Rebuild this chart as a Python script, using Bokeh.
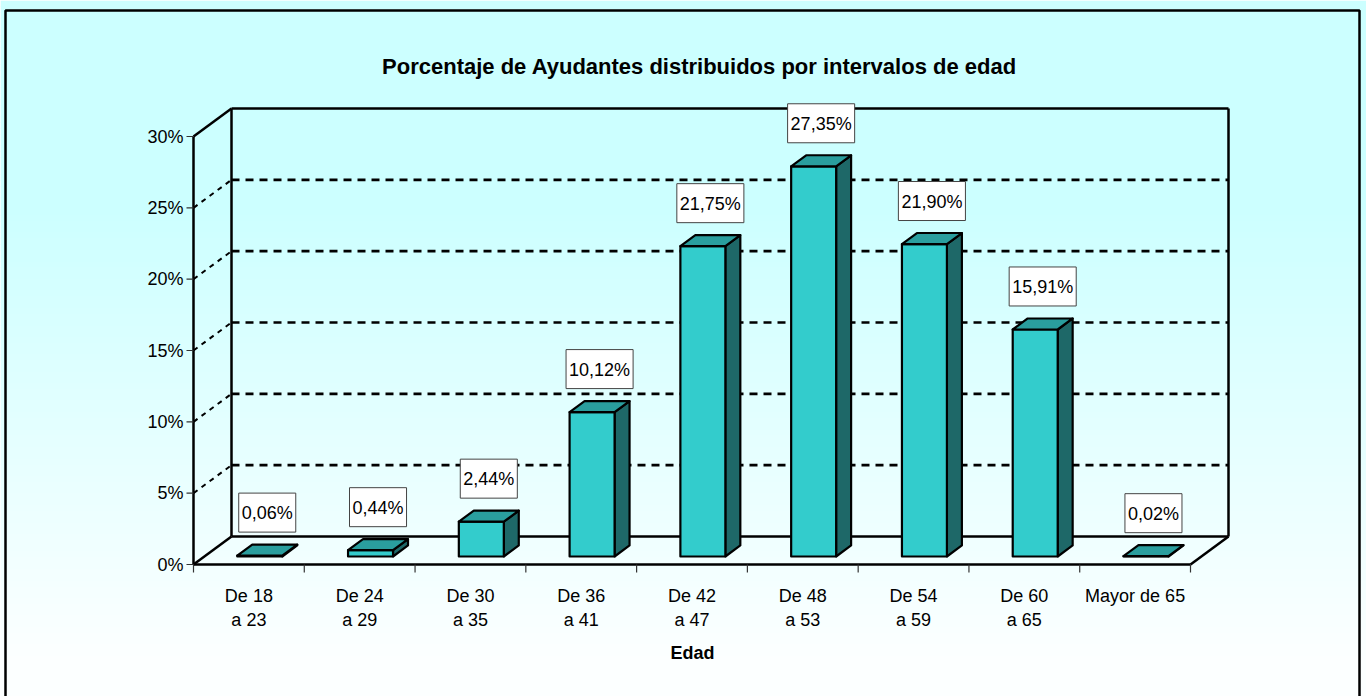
from bokeh.plotting import figure
from bokeh.models import Range1d
from bokeh.core.properties import value
from bokeh.embed import file_html
from bokeh.resources import INLINE

# ---------------- data ----------------
cat_line1 = ["De 18", "De 24", "De 30", "De 36", "De 42", "De 48", "De 54", "De 60", "Mayor de 65"]
cat_line2 = ["a 23", "a 29", "a 35", "a 41", "a 47", "a 53", "a 59", "a 65", ""]
values = [0.06, 0.44, 2.44, 10.12, 21.75, 27.35, 21.90, 15.91, 0.02]
value_labels = ["0,06%", "0,44%", "2,44%", "10,12%", "21,75%", "27,35%", "21,90%", "15,91%", "0,02%"]
y_ticks = [0, 5, 10, 15, 20, 25, 30]
y_tick_labels = ["0%", "5%", "10%", "15%", "20%", "25%", "30%"]
title_text = "Porcentaje de Ayudantes distribuidos por intervalos de edad"
x_title = "Edad"

# ---------------- geometry / style ----------------
FONT = "Liberation Sans"
W, H = 1366, 696
PX_X = 997.0 / 9          # pixels per category unit
PX_Y = 428.0 / 30         # pixels per percent
ORIG_X, ORIG_Y = 193, 564  # frame pixel of (0, 0)
DX = 38.0 / PX_X          # depth offset (x) of back wall
DY = 28.0 / PX_Y          # depth offset (y) of back wall
Z0, Z1 = 0.286, 0.68      # bar depth span
HW = 0.203                # bar half width
YMAX = 30

X0 = -ORIG_X / PX_X
Y1 = ORIG_Y / PX_Y


def fx(px):  # page pixel -> data x
    return (px - ORIG_X) / PX_X


def fy(py):  # page pixel -> data y
    return (ORIG_Y - py) / PX_Y


p = figure(width=W, height=H, output_backend="svg", toolbar_location=None,
           x_range=Range1d(X0, X0 + W / PX_X), y_range=Range1d(Y1 - H / PX_Y, Y1),
           min_border=0, outline_line_color=None)
p.axis.visible = False
p.grid.visible = False
p.background_fill_color = None
p.border_fill_color = "white"

# background gradient stripes
n = 120
tops, bots, cols = [], [], []
for k in range(n):
    py0 = k * (H / n)
    py1 = py0 + H / n + 0.6
    t = min(max((py0 - 200) / 450.0, 0.0), 1.0)
    r = int(204 + t * 48)
    cols.append("#%02xffff" % r)
    tops.append(fy(py0))
    bots.append(fy(py1))
p.quad(left=fx(0), right=fx(1400), top=tops, bottom=bots, fill_color=cols, line_color=None)

# outer border (left, top, right)
p.line([fx(5), fx(5), fx(1359), fx(1359)], [fy(720), fy(10), fy(10), fy(720)],
       line_color="black", line_width=2.5)

# gridlines on back wall and left wall
for v in y_ticks[1:-1]:
    p.line([DX, 9 + DX], [v + DY, v + DY], line_color="black", line_width=2.6, line_dash="8 6")
    p.line([0, DX], [v, v + DY], line_color="black", line_width=2, line_dash="5 5")

# walls and floor outlines
wall_lines = [
    ([0, 0], [0, YMAX]),
    ([0, DX], [YMAX, YMAX + DY]),
    ([DX, DX], [DY, YMAX + DY]),
    ([DX, 9 + DX], [YMAX + DY, YMAX + DY]),
    ([9 + DX, 9 + DX], [DY, YMAX + DY]),
    ([0, 9], [0, 0]),
    ([9, 9 + DX], [0, DY]),
    ([DX, 9 + DX], [DY, DY]),
    ([0, DX], [0, DY]),
]
for xs, ys in wall_lines:
    p.line(xs, ys, line_color="black", line_width=2.5)

# axis ticks
for v in y_ticks:
    p.line([-7 / PX_X, 0], [v, v], line_color="#333333", line_width=1.2)
p.text(x=[0] * len(y_ticks), y=y_ticks, text=y_tick_labels, x_offset=-10,
       text_align="right", text_baseline="middle", text_font=value(FONT),
       text_font_size="18px", text_color="black")
for i in range(len(values) + 1):
    p.line([i, i], [0, -8 / PX_Y], line_color="#333333", line_width=1.2)

# bars
for i, v in enumerate(values):
    cx = i + 0.5
    xl0, xr0 = cx - HW + Z0 * DX, cx + HW + Z0 * DX
    xl1, xr1 = cx - HW + Z1 * DX, cx + HW + Z1 * DX
    yb0, yb1 = Z0 * DY, Z1 * DY
    # side
    p.patch([xr0, xr1, xr1, xr0], [yb0, yb1, v + yb1, v + yb0],
            fill_color="#1e6868", line_color="black", line_width=2.2, line_join="round")
    # front
    p.patch([xl0, xr0, xr0, xl0], [yb0, yb0, v + yb0, v + yb0],
            fill_color="#33cccc", line_color="black", line_width=2.2, line_join="round")
    # top
    p.patch([xl0, xr0, xr1, xl1], [v + yb0, v + yb0, v + yb1, v + yb1],
            fill_color="#2a9e9e", line_color="black", line_width=2.2, line_join="round")

# value labels
lab_x = [i + 0.5 + (Z0 + Z1) / 2 * DX for i in range(len(values))]
lab_y = [v + Z1 * DY + 32 / PX_Y for v in values]
p.text(x=lab_x, y=lab_y, text=value_labels, text_align="center", text_baseline="middle",
       text_font=value(FONT), text_font_size="18px", text_color="black",
       background_fill_color="white", border_line_color="#444444", border_line_width=1,
       padding=dict(left=3, right=3, top=10, bottom=9))

# category labels
cx_list = [i + 0.5 for i in range(len(values))]
p.text(x=cx_list, y=[fy(595)] * len(cx_list), text=cat_line1, text_align="center",
       text_baseline="alphabetic", text_font=value(FONT), text_font_size="18px", text_color="black")
p.text(x=cx_list, y=[fy(619)] * len(cx_list), text=cat_line2, text_align="center",
       text_baseline="alphabetic", text_font=value(FONT), text_font_size="18px", text_color="black")

# titles
p.text(x=[fx(699)], y=[fy(66)], text=[title_text], text_align="center", text_baseline="alphabetic",
       text_font=value(FONT), text_font_size="22px", text_font_style="bold", text_color="black")
p.text(x=[fx(692)], y=[fy(652)], text=[x_title], text_align="center", text_baseline="alphabetic",
       text_font=value(FONT), text_font_size="18px", text_font_style="bold", text_color="black")

open("out.html", "w").write(file_html(p, INLINE))
